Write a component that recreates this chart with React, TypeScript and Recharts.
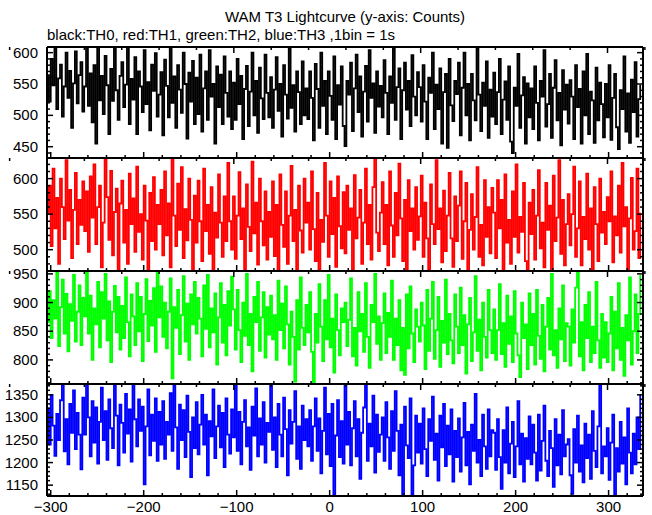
import React from 'react';
import { LineChart, Line, XAxis, YAxis } from 'recharts';

// time bins (s); one value per 2 s bin starting at binStart
const binStart = -304;
const binWidth = 2;

// black: TH0
const th0 = [
  564, 522, 590, 548, 607, 510, 559, 581, 498, 546, 600, 528, 571, 480, 551, 602, 519, 564, 585, 506,
  546, 612, 515, 567, 489, 580, 455, 612, 524, 563, 502, 595, 548, 470, 574, 523, 608, 540, 493, 563,
  585, 513, 549, 610, 486, 558, 525, 593, 470, 570, 546, 505, 604, 518, 553, 476, 581, 539, 599, 498,
  533, 569, 468, 589, 547, 497, 609, 520, 562, 480, 580, 541, 504, 600, 550, 463, 568, 522, 587, 486,
  560, 502, 597, 474, 543, 570, 493, 604, 530, 550, 455, 578, 513, 565, 486, 594, 536, 498, 570, 478,
  552, 493, 590, 518, 563, 462, 542, 579, 483, 538, 600, 500, 555, 472, 576, 527, 494, 597, 536, 497,
  561, 480, 541, 593, 507, 550, 466, 580, 533, 495, 608, 512, 548, 474, 570, 537, 486, 586, 500, 543,
  494, 570, 528, 460, 582, 542, 480, 600, 515, 555, 470, 570, 531, 493, 594, 462, 548, 517, 578, 483,
  451, 555, 533, 584, 475, 543, 597, 505, 562, 466, 538, 579, 490, 604, 528, 551, 472, 570, 514, 547,
  497, 588, 536, 470, 562, 520, 608, 493, 545, 575, 462, 540, 584, 509, 555, 483, 596, 530, 500, 569,
  545, 490, 580, 522, 462, 560, 536, 600, 478, 549, 510, 575, 455, 537, 566, 448, 590, 516, 491, 555,
  534, 584, 468, 544, 600, 500, 550, 460, 566, 524, 492, 606, 533, 475, 552, 515, 586, 464, 541, 498,
  568, 486, 537, 590, 470, 525, 554, 493, 578, 458, 440, 544, 515, 598, 480, 532, 561, 455, 551, 497,
  543, 478, 578, 520, 460, 555, 530, 604, 482, 518, 566, 464, 544, 588, 492, 536, 452, 572, 509, 549,
  487, 556, 530, 462, 580, 513, 542, 455, 570, 500, 598, 470, 538, 524, 456, 576, 492, 552, 518, 465,
  550, 497, 580, 461, 528, 566, 481, 446, 540, 510, 594, 474, 535, 456, 557, 505, 585, 466, 526, 549,
];

// red: TH1
const th1 = [
  550, 590, 505, 614, 530, 573, 480, 600, 560, 515, 626, 541, 584, 488, 556, 608, 508, 570, 535, 596,
  526, 582, 497, 603, 545, 620, 508, 560, 590, 475, 538, 628, 574, 514, 611, 492, 553, 586, 470, 565,
  597, 510, 556, 480, 607, 536, 572, 497, 617, 525, 550, 486, 590, 541, 468, 580, 512, 602, 500, 563,
  536, 584, 492, 610, 520, 565, 475, 629, 548, 505, 593, 528, 616, 488, 557, 513, 600, 542, 466, 576,
  510, 597, 540, 484, 614, 526, 563, 494, 588, 470, 552, 517, 606, 538, 490, 575, 512, 622, 540, 500,
  575, 487, 548, 609, 515, 558, 472, 592, 532, 498, 624, 523, 566, 479, 600, 540, 506, 582, 486, 553,
  518, 596, 491, 563, 470, 606, 535, 504, 582, 480, 548, 618, 512, 556, 472, 590, 527, 496, 600, 538,
  566, 500, 610, 529, 484, 580, 472, 542, 511, 622, 548, 490, 596, 522, 573, 476, 603, 533, 502, 581,
  495, 590, 528, 558, 472, 605, 516, 545, 584, 480, 538, 614, 508, 563, 486, 588, 630, 524, 498, 552,
  595, 508, 563, 478, 610, 534, 490, 580, 520, 621, 544, 484, 570, 470, 598, 526, 558, 500, 588, 514,
  547, 604, 490, 566, 516, 472, 592, 536, 508, 626, 529, 558, 482, 583, 498, 548, 608, 516, 476, 575,
  512, 562, 610, 487, 540, 594, 472, 528, 578, 500, 546, 616, 490, 535, 478, 598, 518, 560, 495, 587,
  552, 488, 598, 530, 570, 472, 606, 510, 542, 480, 582, 518, 620, 496, 546, 525, 594, 484, 471, 566,
  522, 584, 486, 548, 612, 502, 538, 475, 594, 528, 562, 470, 604, 512, 545, 626, 494, 570, 478, 536,
  578, 506, 550, 617, 490, 530, 596, 478, 546, 515, 607, 500, 558, 472, 588, 536, 484, 600, 524, 553,
  508, 574, 540, 610, 482, 547, 520, 590, 496, 622, 533, 560, 470, 544, 601, 500, 526, 614, 488, 552,
];

// green: TH2
const th2 = [
  866, 920, 838, 904, 872, 955, 824, 892, 940, 846, 915, 815, 897, 868, 948, 832, 884, 930, 826, 908,
  876, 954, 846, 912, 800, 890, 862, 936, 822, 918, 872, 950, 834, 902, 796, 884, 929, 848, 910, 818,
  894, 838, 944, 866, 806, 914, 876, 826, 934, 850, 910, 798, 880, 941, 833, 903, 860, 925, 814, 955,
  874, 928, 840, 900, 820, 884, 942, 768, 892, 856, 922, 810, 878, 946, 832, 898, 800, 914, 862, 936,
  846, 908, 872, 806, 930, 854, 948, 822, 890, 848, 916, 792, 874, 934, 830, 896, 808, 920, 860, 945,
  888, 818, 922, 852, 796, 900, 842, 950, 826, 880, 780, 910, 866, 936, 816, 874, 918, 804, 892, 844,
  912, 836, 878, 800, 938, 852, 898, 820, 928, 862, 792, 884, 840, 762, 904, 818, 944, 856, 826, 896,
  848, 918, 814, 761, 880, 830, 932, 858, 798, 904, 836, 948, 822, 872, 778, 914, 852, 808, 890, 866,
  900, 824, 870, 942, 806, 856, 790, 918, 850, 880, 814, 934, 840, 786, 896, 866, 950, 828, 876, 800,
  864, 916, 812, 882, 840, 938, 800, 872, 826, 904, 782, 856, 774, 914, 820, 928, 846, 796, 888, 858,
  832, 900, 860, 784, 922, 816, 872, 936, 802, 852, 910, 788, 868, 830, 940, 810, 880, 834, 794, 914,
  858, 812, 926, 826, 878, 776, 862, 908, 798, 848, 946, 816, 870, 782, 900, 840, 804, 922, 852, 812,
  888, 800, 852, 932, 810, 864, 788, 912, 828, 876, 796, 920, 846, 808, 770, 900, 838, 862, 784, 916,
  826, 880, 792, 922, 842, 802, 896, 780, 858, 908, 818, 950, 808, 852, 786, 890, 836, 930, 798, 864,
  858, 790, 888, 830, 926, 955, 806, 866, 782, 896, 838, 918, 796, 858, 812, 936, 834, 786, 880, 804,
  866, 796, 846, 910, 782, 884, 820, 934, 800, 856, 772, 878, 834, 944, 792, 850, 914, 812, 880, 948,
];

// blue: TH3
const th3 = [
  1320, 1240, 1350, 1282, 1215, 1308, 1250, 1338, 1372, 1225, 1296, 1196, 1330, 1266, 1360, 1230, 1310, 1262, 1185, 1344,
  1262, 1374, 1300, 1214, 1336, 1244, 1322, 1198, 1290, 1366, 1250, 1314, 1206, 1340, 1276, 1232, 1372, 1304, 1194, 1328,
  1288, 1222, 1352, 1264, 1318, 1202, 1373, 1296, 1236, 1340, 1270, 1324, 1152, 1280, 1362, 1216, 1306, 1248, 1342, 1204,
  1312, 1240, 1336, 1208, 1290, 1262, 1354, 1226, 1371, 1278, 1186, 1328, 1250, 1316, 1212, 1348, 1268, 1168, 1300, 1232,
  1334, 1218, 1284, 1350, 1240, 1306, 1172, 1292, 1258, 1362, 1210, 1280, 1326, 1234, 1310, 1190, 1342, 1262, 1220, 1318,
  1256, 1372, 1226, 1312, 1196, 1290, 1338, 1236, 1278, 1184, 1324, 1260, 1364, 1214, 1298, 1240, 1334, 1200, 1288, 1268,
  1373, 1228, 1300, 1190, 1330, 1262, 1214, 1344, 1274, 1172, 1316, 1242, 1290, 1358, 1208, 1280, 1186, 1326, 1250, 1296,
  1236, 1316, 1204, 1280, 1342, 1226, 1298, 1176, 1270, 1366, 1218, 1308, 1192, 1330, 1128, 1260, 1338, 1212, 1292, 1198,
  1374, 1240, 1312, 1194, 1276, 1336, 1214, 1296, 1164, 1266, 1322, 1373, 1204, 1286, 1236, 1348, 1178, 1306, 1224, 1262,
  1300, 1204, 1334, 1256, 1186, 1314, 1226, 1358, 1270, 1172, 1284, 1127, 1324, 1238, 1210, 1342, 1130, 1194, 1304, 1222,
  1286, 1198, 1320, 1230, 1170, 1296, 1248, 1346, 1206, 1264, 1160, 1304, 1234, 1330, 1192, 1282, 1218, 1318, 1158, 1270,
  1212, 1298, 1180, 1256, 1332, 1194, 1268, 1152, 1284, 1226, 1352, 1200, 1250, 1170, 1306, 1236, 1186, 1318, 1214, 1272,
  1266, 1184, 1296, 1212, 1142, 1272, 1200, 1322, 1176, 1242, 1290, 1168, 1236, 1336, 1196, 1264, 1158, 1254, 1208, 1302,
  1196, 1284, 1222, 1160, 1306, 1182, 1248, 1326, 1204, 1170, 1270, 1232, 1146, 1296, 1194, 1262, 1174, 1316, 1214, 1240,
  1252, 1172, 1131, 1274, 1200, 1304, 1180, 1238, 1156, 1286, 1210, 1262, 1164, 1314, 1226, 1190, 1280, 1372, 1176, 1236,
  1214, 1276, 1162, 1244, 1306, 1129, 1232, 1180, 1290, 1198, 1256, 1152, 1320, 1222, 1176, 1264, 1196, 1300, 1230, 1351,
];

const xDomain: [number, number] = [-304, 337];

const font = '"Liberation Sans", Arial, Helvetica, sans-serif';

const range = (a: number, b: number, s: number) => {
  const out: number[] = [];
  for (let v = a; v <= b; v += s) out.push(v);
  return out;
};

const xTicks = range(-300, 320, 20);

const yTick = (side: 'left' | 'right', step: number) => (p: any) => {
  const v = p.payload.value;
  const major = v % step === 0;
  const len = major ? 6 : 3;
  const dir = side === 'left' ? 1 : -1;
  return (
    <g>
      <line x1={p.x} x2={p.x + dir * len} y1={p.y} y2={p.y} stroke="#000" strokeWidth={1.5} />
      {side === 'left' && major && (
        <text x={p.x - 9} y={p.y} dy={5} textAnchor="end" fontSize={15} fontFamily={font} fill="#000">
          {v}
        </text>
      )}
    </g>
  );
};

const xTick = (side: 'top' | 'bottom', labels: boolean) => (p: any) => {
  const v = p.payload.value;
  const major = v % 100 === 0;
  const len = major ? 6 : 3;
  const dir = side === 'top' ? 1 : -1;
  return (
    <g>
      <line x1={p.x} x2={p.x} y1={p.y} y2={p.y + dir * len} stroke="#000" strokeWidth={1.5} />
      {labels && major && (
        <text x={p.x} y={p.y + 16} textAnchor="middle" fontSize={15} fontFamily={font} fill="#000">
          {v < 0 ? `\u2212${Math.abs(v)}` : v}
        </text>
      )}
    </g>
  );
};

interface PanelProps {
  values: number[];
  color: string;
  domain: [number, number];
  yTicks: number[];
  top: number;
  plotH: number;
  showX?: boolean;
}

const Panel = ({ values, color, domain, yTicks, top, plotH, showX }: PanelProps) => {
  const data = values.map((v, i) => ({ t: binStart + i * binWidth, v }));
  const bottomH = showX ? 22 : 2;
  const axisLine = { stroke: '#000', strokeWidth: 2 };
  return (
    <div style={{ position: 'absolute', left: 0, top: top - 2 }}>
      <LineChart width={652} height={plotH + 2 + bottomH} data={data} margin={{ top: 0, right: 0, bottom: 0, left: 0 }}>
        <XAxis
          xAxisId="b"
          dataKey="t"
          type="number"
          orientation="bottom"
          domain={xDomain}
          allowDataOverflow
          ticks={xTicks}
          interval={0}
          height={bottomH}
          tickSize={0}
          tickMargin={0}
          axisLine={axisLine}
          tickLine={false}
          tick={xTick('bottom', !!showX)}
        />
        <XAxis
          xAxisId="t"
          type="number"
          orientation="top"
          domain={xDomain}
          allowDataOverflow
          ticks={xTicks}
          interval={0}
          height={2}
          tickSize={0}
          tickMargin={0}
          axisLine={axisLine}
          tickLine={false}
          tick={xTick('top', false)}
        />
        <YAxis
          yAxisId="l"
          orientation="left"
          type="number"
          domain={domain}
          allowDataOverflow
          ticks={yTicks}
          interval={0}
          width={47}
          tickSize={0}
          tickMargin={0}
          axisLine={axisLine}
          tickLine={false}
          tick={yTick('left', 50)}
        />
        <YAxis
          yAxisId="r"
          orientation="right"
          type="number"
          domain={domain}
          allowDataOverflow
          ticks={yTicks}
          interval={0}
          width={9}
          tickSize={0}
          tickMargin={0}
          axisLine={axisLine}
          tickLine={false}
          tick={yTick('right', 50)}
        />
        <Line
          xAxisId="b"
          yAxisId="l"
          type="stepAfter"
          dataKey="v"
          stroke={color}
          strokeWidth={1.8}
          dot={false}
          isAnimationActive={false}
        />
      </LineChart>
    </div>
  );
};

export default function App() {
  return (
    <div style={{ position: 'absolute', left: 0, top: 0, width: 652, height: 515, background: '#fff', fontFamily: font }}>
      <style>{'.recharts-surface { overflow: visible; }'}</style>
      <div style={{ position: 'absolute', left: 47, top: 8, width: 596, textAlign: 'center', fontSize: 15, lineHeight: '18px' }}>
        WAM T3 Lightcurve (y-axis: Counts)
      </div>
      <div style={{ position: 'absolute', left: 47, top: 26, fontSize: 15, lineHeight: '18px' }}>
        black:TH0, red:TH1, green:TH2, blue:TH3 ,1bin = 1s
      </div>
      <Panel values={th0} color="#000000" domain={[432, 609]} yTicks={range(440, 600, 10)} top={47} plotH={111} />
      <Panel values={th1} color="#ff0000" domain={[470, 629]} yTicks={range(470, 620, 10)} top={158} plotH={113} />
      <Panel values={th2} color="#00ff00" domain={[758, 955]} yTicks={range(760, 950, 10)} top={271} plotH={113} />
      <Panel values={th3} color="#0000ff" domain={[1126, 1374]} yTicks={range(1130, 1370, 10)} top={384} plotH={112} showX />
    </div>
  );
}
